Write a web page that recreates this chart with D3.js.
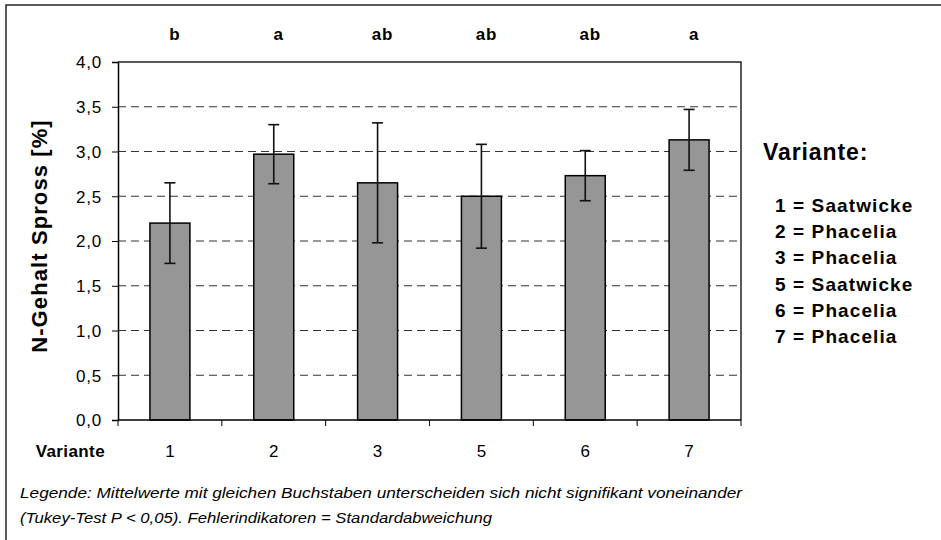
<!DOCTYPE html>
<html>
<head>
<meta charset="utf-8">
<script src="https://cdn.jsdelivr.net/npm/d3@7"></script>
<style>
  html, body { margin: 0; padding: 0; background: #fff; }
  svg text { font-family: "Liberation Sans", Arial, sans-serif; fill: #000; }
</style>
</head>
<body>
<svg id="chart" width="941" height="540"></svg>
<script>
// N content of shoots per variant (mean and standard deviation)
const variants = ["1", "2", "3", "5", "6", "7"];
const means = [2.20, 2.97, 2.65, 2.50, 2.73, 3.13];
const stdDevs = [0.45, 0.33, 0.67, 0.58, 0.28, 0.34];
const tukeyLetters = ["b", "a", "ab", "ab", "ab", "a"];
const yTicks = [0, 0.5, 1, 1.5, 2, 2.5, 3, 3.5, 4];
const legendTitle = "Variante:";
const legendItems = ["1 = Saatwicke", "2 = Phacelia", "3 = Phacelia", "5 = Saatwicke", "6 = Phacelia", "7 = Phacelia"];
const footnote = [
  "Legende: Mittelwerte mit gleichen Buchstaben unterscheiden sich nicht signifikant voneinander",
  "(Tukey-Test P < 0,05). Fehlerindikatoren = Standardabweichung"
];

const svg = d3.select("#chart");
const plot = { left: 118, right: 741, top: 62, bottom: 420 };

// outer frame
svg.append("rect")
  .attr("x", 6).attr("y", 5)
  .attr("width", 960).attr("height", 560)
  .attr("fill", "none").attr("stroke", "#333").attr("stroke-width", 1.6);

const x = d3.scaleBand().domain(variants).range([plot.left, plot.right]).paddingInner(0.615).paddingOuter(0.3075);
const xTicks = d3.scaleBand().domain(variants).range([plot.left, plot.right]);
const y = d3.scaleLinear().domain([0, 4]).range([plot.bottom, plot.top]);
const fmt = d => d3.format(".1f")(d).replace(".", ",");

// dashed gridlines
svg.append("g").selectAll("line")
  .data(yTicks.filter(t => t > 0 && t < 4))
  .join("line")
  .attr("x1", plot.left).attr("x2", plot.right)
  .attr("y1", d => y(d)).attr("y2", d => y(d))
  .attr("stroke", "#333").attr("stroke-width", 1)
  .attr("stroke-dasharray", "8,5");

// plot area border (top and right)
svg.append("path")
  .attr("d", `M${plot.left},${plot.top}H${plot.right}V${plot.bottom}`)
  .attr("fill", "none").attr("stroke", "#222").attr("stroke-width", 1.5);

// bars
svg.append("g").selectAll("rect")
  .data(variants)
  .join("rect")
  .attr("x", d => x(d))
  .attr("y", (d, i) => y(means[i]))
  .attr("width", x.bandwidth())
  .attr("height", (d, i) => y(0) - y(means[i]))
  .attr("fill", "#969696").attr("stroke", "#000").attr("stroke-width", 1.5);

// error bars
const eb = svg.append("g").attr("stroke", "#111").attr("stroke-width", 1.6);
variants.forEach((v, i) => {
  const cx = x(v) + x.bandwidth() / 2;
  const hi = y(means[i] + stdDevs[i]), lo = y(means[i] - stdDevs[i]);
  eb.append("line").attr("x1", cx).attr("x2", cx).attr("y1", hi).attr("y2", lo);
  eb.append("line").attr("x1", cx - 5.5).attr("x2", cx + 5.5).attr("y1", hi).attr("y2", hi);
  eb.append("line").attr("x1", cx - 5.5).attr("x2", cx + 5.5).attr("y1", lo).attr("y2", lo);
});

// y axis
const yAxis = svg.append("g").attr("transform", `translate(${plot.left},0)`)
  .call(d3.axisLeft(y).tickValues(yTicks).tickFormat(fmt).tickSize(6).tickPadding(10));
yAxis.select(".domain").attr("stroke", "#000").attr("stroke-width", 1.5);
yAxis.selectAll(".tick line").attr("stroke", "#000");
yAxis.selectAll("text").attr("font-size", 17).attr("fill", "#000")
  .attr("letter-spacing", 0.8).attr("dy", "0.35em")
  .attr("font-family", "'Liberation Sans', Arial, sans-serif");

// x axis: category separators
const xAxisG = svg.append("g");
xAxisG.append("line")
  .attr("x1", plot.left).attr("x2", plot.right)
  .attr("y1", plot.bottom).attr("y2", plot.bottom)
  .attr("stroke", "#000").attr("stroke-width", 1.6);
xAxisG.selectAll("line.sep")
  .data(variants.map(v => xTicks(v)).concat([plot.right]))
  .join("line").attr("class", "sep")
  .attr("x1", d => d).attr("x2", d => d)
  .attr("y1", plot.bottom).attr("y2", plot.bottom + 6)
  .attr("stroke", "#000").attr("stroke-width", 1);
xAxisG.selectAll("text.cat")
  .data(variants)
  .join("text").attr("class", "cat")
  .attr("x", d => xTicks(d) + xTicks.bandwidth() / 2)
  .attr("y", 457)
  .attr("text-anchor", "middle").attr("font-size", 17)
  .text(d => d);
svg.append("text")
  .attr("x", 105).attr("y", 457)
  .attr("text-anchor", "end").attr("font-size", 17).attr("font-weight", "bold")
  .attr("letter-spacing", 0.4)
  .text("Variante");

// Tukey letters
svg.append("g").selectAll("text")
  .data(variants)
  .join("text")
  .attr("x", (d) => x(d) + x.bandwidth() / 2 + 5)
  .attr("y", 40)
  .attr("text-anchor", "middle").attr("font-size", 17).attr("font-weight", "bold")
  .attr("letter-spacing", 0.8)
  .text((d, i) => tukeyLetters[i]);

// y axis title
svg.append("text")
  .attr("transform", `translate(47,236) rotate(-90)`)
  .attr("text-anchor", "middle").attr("font-size", 22).attr("font-weight", "bold")
  .attr("letter-spacing", 1.1)
  .text("N-Gehalt Spross [%]");

// legend
svg.append("text")
  .attr("x", 763).attr("y", 160)
  .attr("font-size", 23).attr("font-weight", "bold")
  .attr("letter-spacing", 0.9)
  .text(legendTitle);
svg.append("g").selectAll("text")
  .data(legendItems)
  .join("text")
  .attr("x", 775).attr("y", (d, i) => 212 + i * 26.2)
  .attr("font-size", 19).attr("font-weight", "bold")
  .attr("letter-spacing", 1.1)
  .text(d => d);

// footnote
svg.append("g").selectAll("text")
  .data(footnote)
  .join("text")
  .attr("x", 20).attr("y", (d, i) => 498 + i * 25)
  .attr("font-size", 14).attr("font-style", "italic")
  .attr("textLength", (d, i) => i === 0 ? 722 : 472)
  .attr("lengthAdjust", "spacingAndGlyphs")
  .text(d => d);
</script>
</body>
</html>
